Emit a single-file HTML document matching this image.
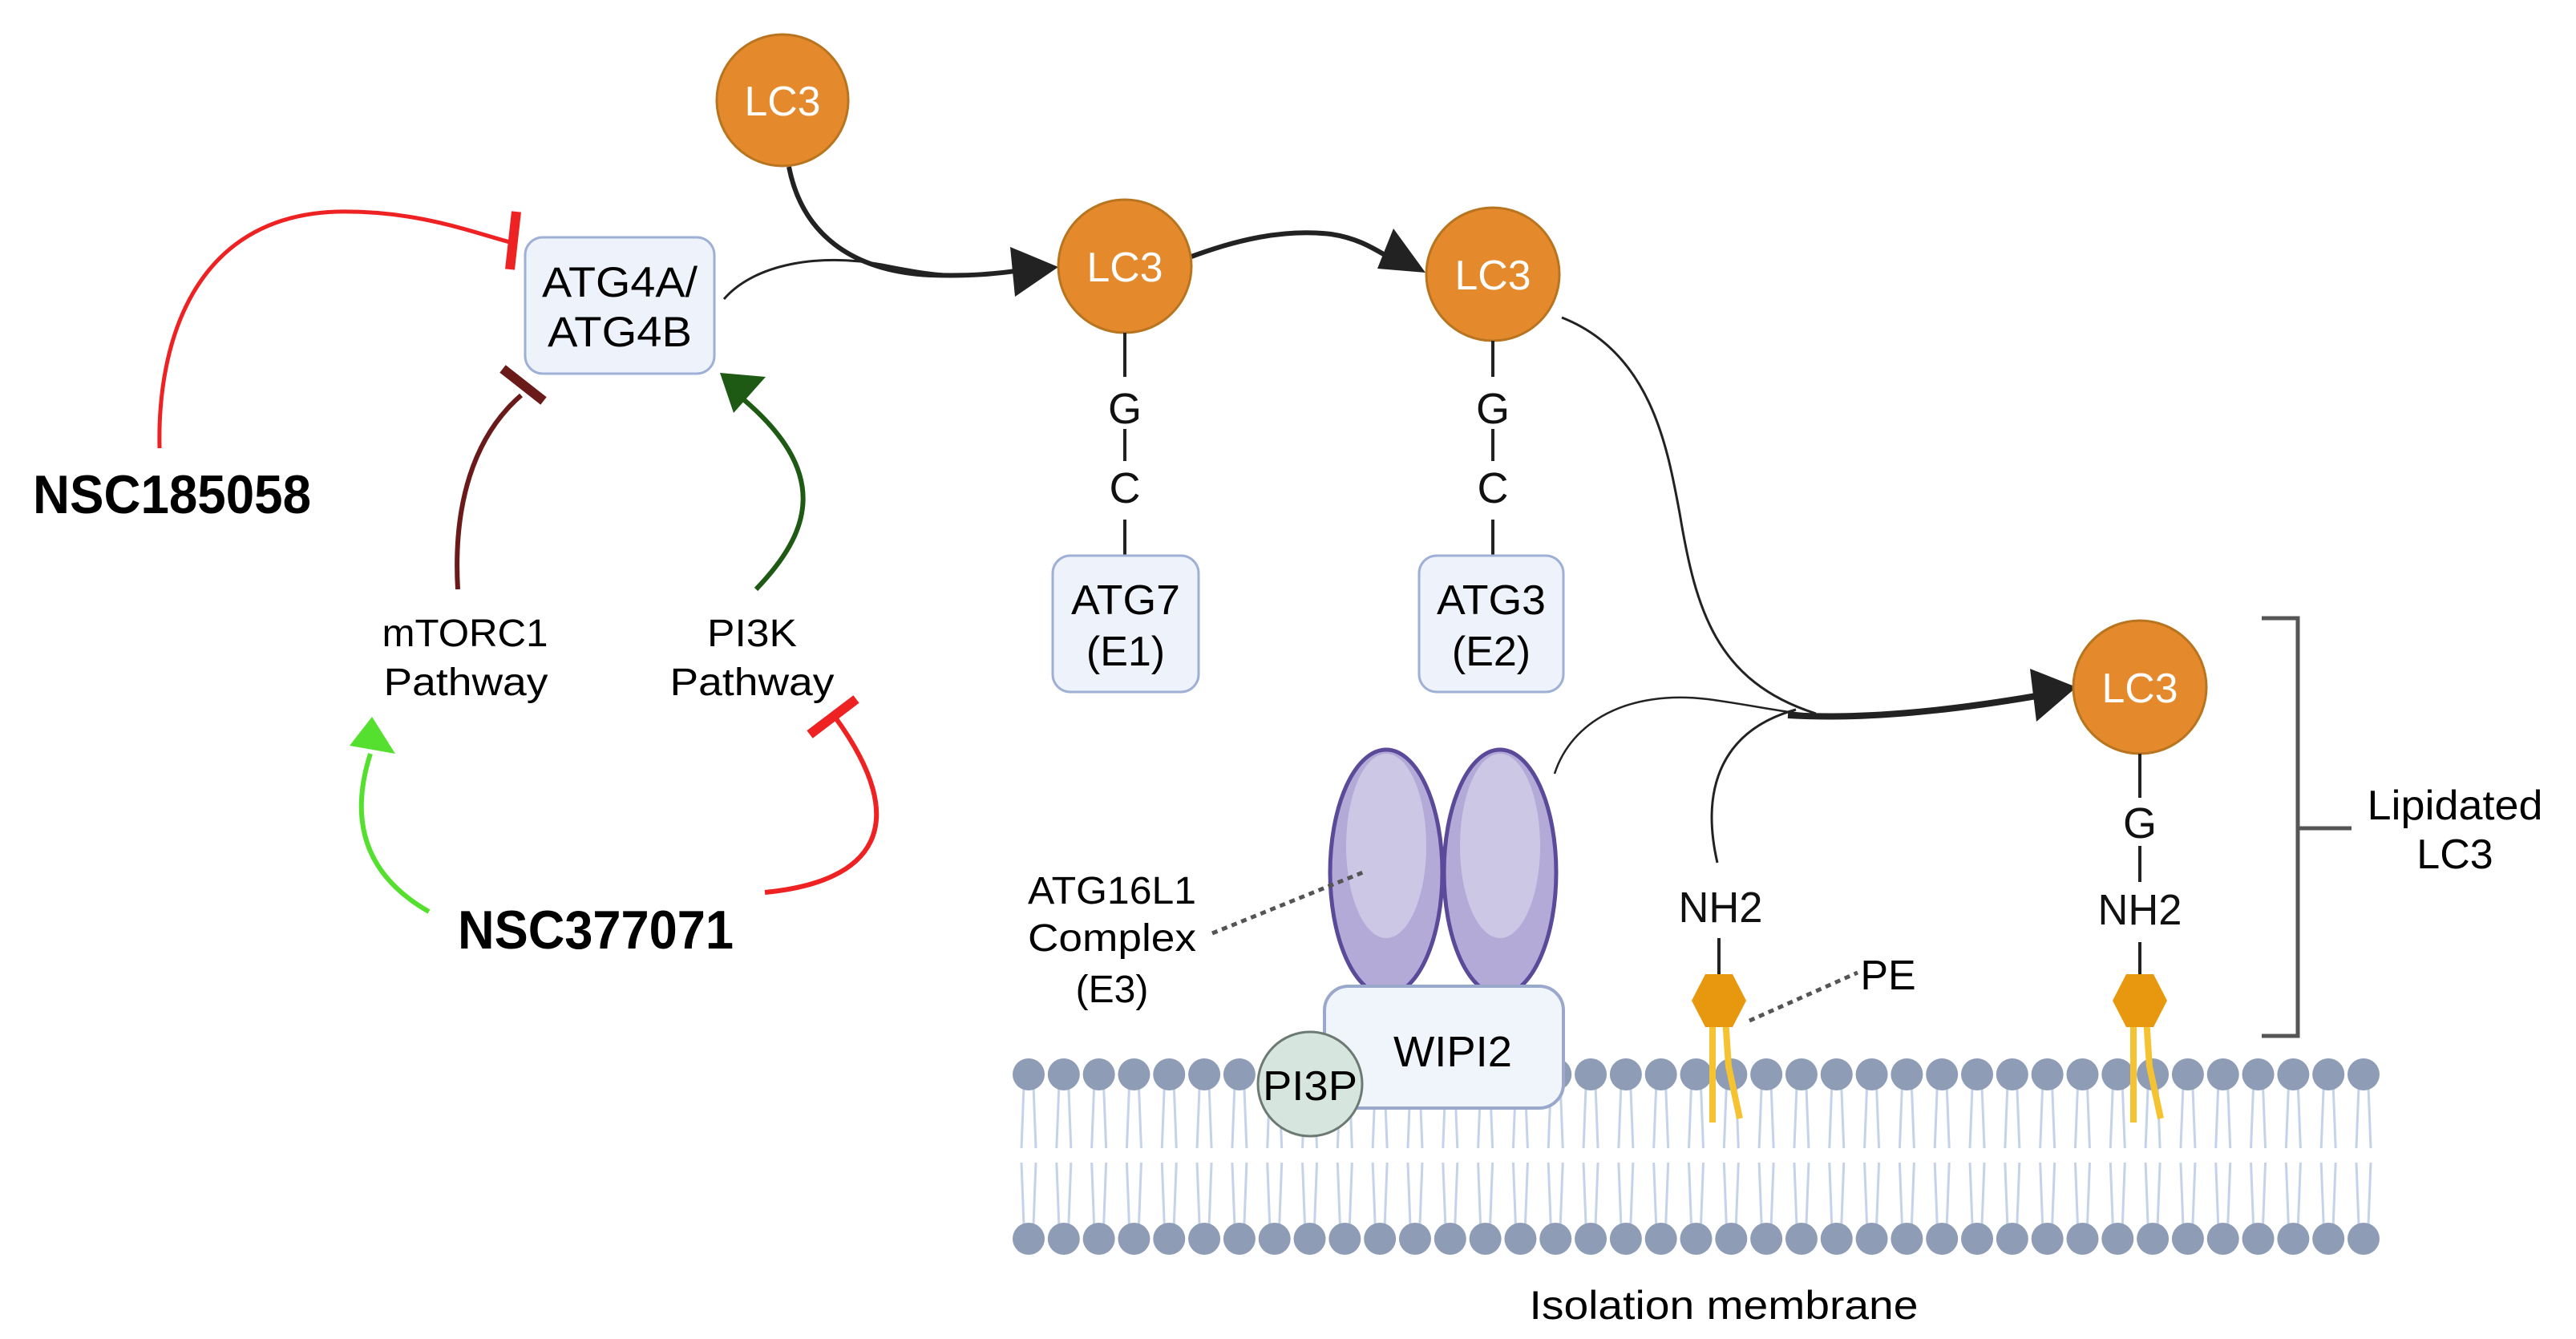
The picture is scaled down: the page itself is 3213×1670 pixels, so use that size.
<!DOCTYPE html>
<html><head><meta charset="utf-8"><style>
html,body{margin:0;padding:0;background:#fff;}
svg{display:block;}
text{font-family:"Liberation Sans",sans-serif;}
</style></head><body>
<svg id="s" width="3213" height="1670" viewBox="0 0 3213 1670" xmlns="http://www.w3.org/2000/svg">
<defs>
<marker id="ab" viewBox="0 0 10 10" refX="8" refY="5" markerWidth="6" markerHeight="6" markerUnits="strokeWidth" orient="auto"><path d="M0,0 L10,5 L0,10 z" fill="#222"/></marker>
</defs>
<g id="mem"></g>

<!-- left regulators -->
<path d="M199,559 C196,430 240,270 420,264 C520,262 590,290 636,302" fill="none" stroke="#ee2222" stroke-width="5"/>
<line x1="644" y1="264" x2="636" y2="336" stroke="#ee2222" stroke-width="12"/>
<path d="M571,735 C565,630 590,545 650,493" fill="none" stroke="#6b1a1a" stroke-width="6"/>
<line x1="627" y1="460" x2="678" y2="500" stroke="#6b1a1a" stroke-width="12"/>
<path d="M943,735 C1010,665 1040,590 920,492" fill="none" stroke="#1f5a14" stroke-width="6"/>
<polygon points="898,465 955,470 915,515" fill="#1f5a14"/>
<path d="M535,1137 C470,1100 430,1040 462,940" fill="none" stroke="#55e030" stroke-width="6"/>
<polygon points="464,894 493,940 436,930" fill="#55e030"/>
<path d="M954,1113 C1090,1100 1140,1030 1042,895" fill="none" stroke="#ee2222" stroke-width="6"/>
<line x1="1010" y1="916" x2="1068" y2="872" stroke="#ee2222" stroke-width="12"/>

<!-- top arrows -->
<path d="M984,208 C1000,290 1060,338 1160,343 C1220,345 1250,340 1275,337" fill="none" stroke="#222" stroke-width="6"/>
<path d="M903,373 C940,330 1020,315 1100,330 C1140,338 1170,343 1200,343" fill="none" stroke="#222" stroke-width="3"/>
<polygon points="1320,333 1260,308 1266,370" fill="#222"/>
<path d="M1486,320 C1540,300 1600,285 1660,292 C1700,298 1720,315 1740,325" fill="none" stroke="#222" stroke-width="6"/>
<polygon points="1778,340 1738,285 1718,335" fill="#222"/>
<path d="M1948,396 C2060,440 2080,560 2095,640 C2115,760 2140,850 2265,890" fill="none" stroke="#222" stroke-width="3"/>
<path d="M1939,965 C1960,900 2030,860 2130,872 C2190,880 2230,890 2270,892" fill="none" stroke="#222" stroke-width="2.5"/>
<path d="M2142,1076 C2120,980 2150,910 2240,885" fill="none" stroke="#222" stroke-width="3"/>
<path d="M2230,892 C2330,898 2440,885 2540,868" fill="none" stroke="#222" stroke-width="8"/>
<polygon points="2590,857 2532,834 2540,900" fill="#222"/>

<!-- ATG4 box -->
<rect x="655" y="296" width="236" height="170" rx="22" fill="#eef3fb" stroke="#9fb0d6" stroke-width="3"/>
<text x="773" y="370" font-size="53" text-anchor="middle" textLength="194" lengthAdjust="spacingAndGlyphs">ATG4A/</text>
<text x="773" y="432" font-size="53" text-anchor="middle" textLength="180" lengthAdjust="spacingAndGlyphs">ATG4B</text>

<text x="41" y="640" font-size="68" font-weight="bold" textLength="347" lengthAdjust="spacingAndGlyphs">NSC185058</text>
<text x="571" y="1183" font-size="68" font-weight="bold" textLength="344" lengthAdjust="spacingAndGlyphs">NSC377071</text>
<text x="580" y="806" font-size="48" text-anchor="middle" textLength="207" lengthAdjust="spacingAndGlyphs">mTORC1</text>
<text x="581" y="867" font-size="48" text-anchor="middle" textLength="205" lengthAdjust="spacingAndGlyphs">Pathway</text>
<text x="938" y="806" font-size="48" text-anchor="middle" textLength="112" lengthAdjust="spacingAndGlyphs">PI3K</text>
<text x="938" y="867" font-size="48" text-anchor="middle" textLength="205" lengthAdjust="spacingAndGlyphs">Pathway</text>

<!-- LC3 circles -->
<g fill="#e58a2c" stroke="#b8741f" stroke-width="3">
<circle cx="976" cy="125" r="82"/>
<circle cx="1403" cy="332" r="83"/>
<circle cx="1862" cy="342" r="83"/>
<circle cx="2669" cy="857" r="83"/>
</g>
<g fill="#fff" font-size="52" text-anchor="middle">
<text x="976" y="144" textLength="95" lengthAdjust="spacingAndGlyphs">LC3</text>
<text x="1403" y="351" textLength="95" lengthAdjust="spacingAndGlyphs">LC3</text>
<text x="1862" y="361" textLength="95" lengthAdjust="spacingAndGlyphs">LC3</text>
<text x="2669" y="876" textLength="95" lengthAdjust="spacingAndGlyphs">LC3</text>
</g>

<!-- chains -->
<g stroke="#222" stroke-width="4">
<line x1="1403" y1="415" x2="1403" y2="470"/><line x1="1403" y1="535" x2="1403" y2="575"/><line x1="1403" y1="648" x2="1403" y2="692"/>
<line x1="1862" y1="425" x2="1862" y2="470"/><line x1="1862" y1="535" x2="1862" y2="575"/><line x1="1862" y1="648" x2="1862" y2="692"/>
<line x1="2669" y1="940" x2="2669" y2="995"/><line x1="2669" y1="1055" x2="2669" y2="1100"/><line x1="2669" y1="1175" x2="2669" y2="1222"/>
<line x1="2144" y1="1170" x2="2144" y2="1220"/>
</g>
<g font-size="54" text-anchor="middle" fill="#111">
<text x="1403" y="528">G</text><text x="1403" y="627">C</text>
<text x="1862" y="528">G</text><text x="1862" y="627">C</text>
<text x="2669" y="1045">G</text>
<text x="2669" y="1153" textLength="105" lengthAdjust="spacingAndGlyphs">NH2</text>
<text x="2146" y="1150" textLength="105" lengthAdjust="spacingAndGlyphs">NH2</text>
</g>

<rect x="1313" y="693" width="182" height="170" rx="22" fill="#eef3fb" stroke="#9fb0d6" stroke-width="3"/>
<text x="1404" y="766" font-size="52" text-anchor="middle" textLength="136" lengthAdjust="spacingAndGlyphs">ATG7</text>
<text x="1404" y="830" font-size="52" text-anchor="middle">(E1)</text>
<rect x="1770" y="693" width="180" height="170" rx="22" fill="#eef3fb" stroke="#9fb0d6" stroke-width="3"/>
<text x="1860" y="766" font-size="52" text-anchor="middle" textLength="136" lengthAdjust="spacingAndGlyphs">ATG3</text>
<text x="1860" y="830" font-size="52" text-anchor="middle">(E2)</text>

<!-- bracket -->
<path d="M2821,771 H2866 V1292 H2821 M2866,1033 H2933" fill="none" stroke="#555" stroke-width="5"/>
<text x="3062" y="1022" font-size="52" text-anchor="middle" textLength="219" lengthAdjust="spacingAndGlyphs">Lipidated</text>
<text x="3062" y="1083" font-size="52" text-anchor="middle">LC3</text>

<!-- ATG16 complex -->
<g stroke="#5b4a9a" stroke-width="5" fill="#b3aad8">
<ellipse cx="1729" cy="1088" rx="70" ry="153"/>
<ellipse cx="1871" cy="1088" rx="70" ry="153"/>
</g>
<ellipse cx="1729" cy="1055" rx="50" ry="115" fill="#cdc7e6"/>
<ellipse cx="1871" cy="1055" rx="50" ry="115" fill="#cdc7e6"/>
<rect x="1652" y="1230" width="298" height="152" rx="30" fill="#f0f4fb" stroke="#9aa8cc" stroke-width="4"/>
<text x="1812" y="1330" font-size="54" text-anchor="middle" textLength="148" lengthAdjust="spacingAndGlyphs">WIPI2</text>
<circle cx="1634" cy="1352" r="65" fill="#d6e6df" stroke="#6d7a74" stroke-width="3"/>
<text x="1634" y="1372" font-size="52" text-anchor="middle" textLength="118" lengthAdjust="spacingAndGlyphs">PI3P</text>

<text x="1387" y="1127" font-size="48" text-anchor="middle" textLength="210" lengthAdjust="spacingAndGlyphs">ATG16L1</text>
<text x="1387" y="1186" font-size="48" text-anchor="middle" textLength="210" lengthAdjust="spacingAndGlyphs">Complex</text>
<text x="1387" y="1250" font-size="48" text-anchor="middle">(E3)</text>
<line x1="1512" y1="1164" x2="1700" y2="1088" stroke="#555" stroke-width="5" stroke-dasharray="7,6"/>

<!-- PE -->
<g id="pe"></g>
<line x1="2182" y1="1273" x2="2317" y2="1213" stroke="#555" stroke-width="5" stroke-dasharray="7,6"/>
<text x="2355" y="1234" font-size="52" text-anchor="middle">PE</text>

<text x="2150" y="1645" font-size="50" text-anchor="middle" textLength="485" lengthAdjust="spacingAndGlyphs">Isolation membrane</text>
</svg>
<script>
(function(){
var ns="http://www.w3.org/2000/svg",m=document.getElementById("mem"),h="";
var n=39,x0=1283,x1=2948,d=(x1-x0)/(n-1);
for(var i=0;i<n;i++){var x=x0+i*d;
h+='<line x1="'+(x-6)+'" y1="1355" x2="'+(x-9)+'" y2="1432" stroke="#c5d3ea" stroke-width="3"/>';
h+='<line x1="'+(x+6)+'" y1="1355" x2="'+(x+9)+'" y2="1432" stroke="#c5d3ea" stroke-width="3"/>';
h+='<line x1="'+(x-9)+'" y1="1450" x2="'+(x-6)+'" y2="1528" stroke="#c5d3ea" stroke-width="3"/>';
h+='<line x1="'+(x+9)+'" y1="1450" x2="'+(x+6)+'" y2="1528" stroke="#c5d3ea" stroke-width="3"/>';
h+='<circle cx="'+x+'" cy="1340" r="20" fill="#8e9db5"/>';
h+='<circle cx="'+x+'" cy="1545" r="20" fill="#8e9db5"/>';}
m.innerHTML=h;
var p=document.getElementById("pe"),g="";
[2144,2669].forEach(function(c){
g+='<line x1="'+(c-8)+'" y1="1270" x2="'+(c-8)+'" y2="1400" stroke="#f5c232" stroke-width="8"/>';
g+='<path d="M'+(c+8)+',1270 L'+(c+12)+',1330 L'+(c+26)+',1395" fill="none" stroke="#f5c232" stroke-width="8"/>';
g+='<polygon points="'+(c-17)+',1215 '+(c+17)+',1215 '+(c+34)+',1248 '+(c+17)+',1281 '+(c-17)+',1281 '+(c-34)+',1248" fill="#e8980e"/>';});
p.innerHTML=g;
})();
</script>
</body></html>
